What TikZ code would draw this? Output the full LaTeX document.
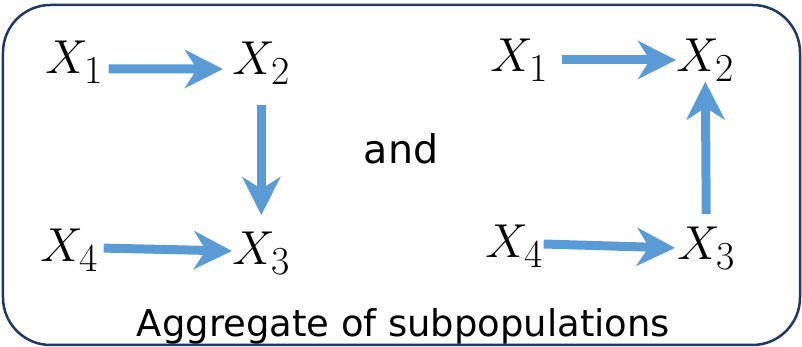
\documentclass[tikz,border=0pt]{standalone}
\usepackage{amsmath}
\usepackage{fontspec}
\setsansfont{DejaVu Sans}
\usepackage{tikz}
\usetikzlibrary{arrows.meta, positioning}
\definecolor{skyblue}{RGB}{91, 155, 213}
\definecolor{framenavy}{RGB}{31, 56, 100}
\tikzset{
  >=Stealth,
  bluearrow/.style={-{Stealth[length=7.6mm, width=7.6mm, inset=2.4mm]}, line width=1.8mm, skyblue},
  varnode/.style={inner sep=0pt, anchor=base west, scale=1.09, font=\fontsize{24.88}{30}\selectfont},
  wordnode/.style={inner sep=0pt, anchor=base, font=\sffamily\fontsize{21}{25}\selectfont}
}

\begin{document}
\begin{tikzpicture}
    \useasboundingbox (0,0) rectangle (16.04,6.94);
    \draw[framenavy, line width=0.05cm, rounded corners=0.95cm] (0.06,0.04) rectangle (16.0,6.84);
    % left subpopulation
    \node (lx1) [varnode] at (0.90,5.46) {\(X_1\)};
    \node (lx2) [varnode] at (4.64,5.44) {\(X_2\)};
    \node (lx4) [varnode] at (0.80,1.70) {\(X_4\)};
    \node (lx3) [varnode] at (4.64,1.64) {\(X_3\)};
    % right subpopulation
    \node (rx1) [varnode] at (9.80,5.50) {\(X_1\)};
    \node (rx2) [varnode] at (13.52,5.50) {\(X_2\)};
    \node (rx4) [varnode] at (9.70,1.78) {\(X_4\)};
    \node (rx3) [varnode] at (13.54,1.74) {\(X_3\)};
    \draw[bluearrow, shorten <=0.1cm, shorten >=0.18cm] ([yshift=0.1cm]lx1.base east) -- ([yshift=0.12cm]lx2.base west);
    \draw[bluearrow, shorten <=0.4cm, shorten >=0.34cm] (lx2.south) -- (lx3.north);
    \draw[bluearrow, shorten <=0.1cm] ([yshift=0.28cm]lx4.base east) -- ([yshift=0.28cm]lx3.base west);
    \draw[bluearrow, shorten <=0.26cm] ([yshift=0.24cm]rx1.base east) -- ([yshift=0.24cm]rx2.base west);
    \draw[bluearrow, shorten <=0.26cm] (rx3.north) -- (rx2.south);
    \draw[bluearrow, shorten >=0.04cm] ([yshift=0.28cm]rx4.base east) -- ([yshift=0.24cm]rx3.base west);
    \node (andword) [wordnode, font=\sffamily\fontsize{22.5}{27}\selectfont] at (8.02,3.66) {and};
    \node (caption) [wordnode] at (8.07,0.20) {Aggregate of subpopulations};
\end{tikzpicture}
\end{document}
